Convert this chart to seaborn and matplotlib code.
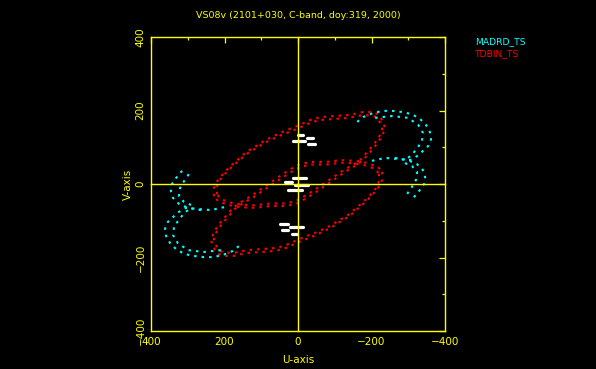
import numpy as np
import pandas as pd
import matplotlib
matplotlib.use('Agg')
import matplotlib.pyplot as plt
from matplotlib.ticker import MultipleLocator
import seaborn as sns

title = 'VS08v (2101+030, C-band, doy:319, 2000)'
legend_names = ['MADRD_TS', 'TDBIN_TS']
legend_colors = ['#00ffff', '#ff0000']
fg = '#ffff00'

# TDBIN_TS - HALCA track, two orbit passes (conjugate points are added below)
tdbin_u = [229, 229, 218, 199, 180, 158, 141, 114, 93, 71, 49, 22, -5, -33, -60,
           -101, -141, -177, -201, -218, -231, -237, -229, -215, -196, -177,
           -155, -128, -101, -73, -46, -19, 5, 35, 76, 117, 158, 190, 218, 229]
tdbin_v = [-33, -11, 11, 33, 52, 71, 87, 103, 117, 128, 139, 150, 161, 174, 182,
           185, 188, 196, 196, 190, 171, 152, 131, 109, 87, 65,
           49, 33, 14, -5, -24, -41, -54, -60, -60, -65, -63, -57, -46, -33]
tdbin2_u = [220, 221, 211, 193, 174, 153, 135, 110, 89, 68, 46, 20, -6, -32, -58,
            -99, -139, -174, -198, -213, -224, -229, -222, -208, -190, -172,
            -151, -124, -98, -70, -43, -16, 7, 36, 77, 117, 156, 186, 212, 220]
tdbin2_v = [-28, -8, 13, 34, 52, 70, 85, 100, 113, 123, 133, 143, 154, 166, 174,
            177, 180, 187, 187, 182, 166, 150, 131, 110, 89, 68,
            53, 38, 20, 1, -17, -34, -47, -53, -53, -58, -56, -50, -40, -28]

# MADRD_TS - HALCA track, outer and inner passes (upper and lower bowl)
madrd_outer_up_u = [-161, -177, -204, -231, -256, -283, -310, -332, -348, -359,
                    -362, -354, -340, -324, -305, -272, -237, -201]
madrd_outer_up_v = [169, 182, 193, 199, 199, 196, 190, 177, 161, 141,
                    122, 103, 90, 76, 65, 68, 71, 63]
madrd_outer_lo_u = [-264, -299, -324, -340, -346, -343, -332, -318, -305]
madrd_outer_lo_v = [71, 65, 54, 38, 19, 0, -16, -33, -44]
madrd_inner_up_u = [-210, -256, -299, -327, -340, -337, -324, -310, -291]
madrd_inner_up_v = [180, 185, 180, 161, 139, 114, 98, 79, 65]
madrd_inner_lo_u = [-291, -310, -324, -321, -310, -299, -291]
madrd_inner_lo_v = [57, 49, 33, 11, -8, -24, -35]

# short ground baselines near the centre (u start, u end, v)
short_u0 = [0, 14, -24, -27, 14, 35, 8, 27, 49, 22, 44, 16]
short_u1 = [-14, -19, -41, -46, -22, 16, -27, -11, 27, -14, 27, 3]
short_v = [133, 117, 125, 109, 16, 5, -3, -16, -109, -117, -125, -136]

tracks = [
    ('TDBIN_TS', 't1', tdbin_u, tdbin_v),
    ('TDBIN_TS', 't2', tdbin2_u, tdbin2_v),
    ('MADRD_TS', 'm1', madrd_outer_up_u, madrd_outer_up_v),
    ('MADRD_TS', 'm2', madrd_outer_lo_u, madrd_outer_lo_v),
    ('MADRD_TS', 'm3', madrd_inner_up_u, madrd_inner_up_v),
    ('MADRD_TS', 'm4', madrd_inner_lo_u, madrd_inner_lo_v),
]
rows = []
for st, name, u, v in tracks:
    for a, b in zip(u, v):
        rows.append((st, name, a, b))
        rows.append((st, name + 'c', -a, -b))   # conjugate point (-u, -v)
df = pd.DataFrame(rows, columns=['station', 'track', 'u', 'v'])

seg = []
for i, (a, b, c) in enumerate(zip(short_u0, short_u1, short_v)):
    seg.append((i, a, c))
    seg.append((i, b, c))
df_short = pd.DataFrame(seg, columns=['seg', 'u', 'v'])

sns.set_style('dark')
plt.rcParams['font.family'] = ['DejaVu Sans']

fig = plt.figure(figsize=(5.96, 3.69), dpi=100, facecolor='black')
pos = [151 / 596, 1 - 331 / 369, 294 / 596, 294 / 369]
ax = fig.add_axes(pos, facecolor='black')

sns.lineplot(data=df, x='u', y='v', hue='station', units='track', estimator=None,
             sort=False, palette=dict(zip(legend_names, legend_colors)),
             linestyle=(0, (1.2, 2.4)), linewidth=1.5, legend=False, ax=ax)
sns.lineplot(data=df_short, x='u', y='v', units='seg', estimator=None, sort=False,
             color='white', linewidth=2.3, legend=False, ax=ax)

ax.set_xlim(400, -400)
ax.set_ylim(-400, 400)
ax.set_xticks([400, 200, 0, -200, -400])
ax.set_yticks([-400, -200, 0, 200, 400])
ax.xaxis.set_minor_locator(MultipleLocator(100))
ax.yaxis.set_minor_locator(MultipleLocator(100))
ax.tick_params(which='both', direction='in', top=True, right=True, color=fg,
               labelcolor=fg, labelsize=7.5, width=0.9, pad=4)
ax.tick_params(which='major', length=4)
ax.tick_params(which='minor', length=2.5)
for lab in ax.get_yticklabels():
    lab.set_rotation(90)
    lab.set_va('center')
for s in ax.spines.values():
    s.set_color(fg)
    s.set_linewidth(1.0)
ax.grid(False)
ax.set_xlabel('U-axis', color=fg, fontsize=7.5, labelpad=6)
ax.set_ylabel('V-axis', color=fg, fontsize=7.5, labelpad=2)

# zero lines with crossing ticks
ax0 = fig.add_axes(pos, facecolor='none')
ax0.set_xlim(400, -400)
ax0.set_ylim(-400, 400)
ax0.set_xticks([200, -200])
ax0.set_yticks([200, -200])
ax0.xaxis.set_minor_locator(MultipleLocator(100))
ax0.yaxis.set_minor_locator(MultipleLocator(100))
ax0.spines['left'].set_position(('data', 0))
ax0.spines['bottom'].set_position(('data', 0))
ax0.spines['top'].set_visible(False)
ax0.spines['right'].set_visible(False)
for s in ('left', 'bottom'):
    ax0.spines[s].set_color(fg)
    ax0.spines[s].set_linewidth(1.0)
ax0.tick_params(which='both', direction='inout', color=fg, width=0.9,
                labelleft=False, labelbottom=False)
ax0.tick_params(which='major', length=7)
ax0.tick_params(which='minor', length=3.5)
ax0.grid(False)

fig.text(298 / 596, 1 - 16 / 369, title, color=fg, fontsize=6.8,
         ha='center', va='center')
for i, (name, col) in enumerate(zip(legend_names, legend_colors)):
    fig.text(475 / 596, 1 - (42 + 11.5 * i) / 369, name, color=col,
             fontsize=6.6, ha='left', va='center')

fig.savefig('out.png', dpi=100, facecolor='black')
